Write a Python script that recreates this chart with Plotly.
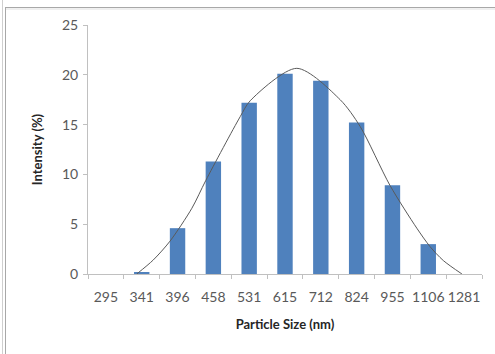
import plotly.graph_objects as go

sizes = ["295", "341", "396", "458", "531", "615", "712", "824", "955", "1106", "1281"]
intensity = [0, 0.15, 4.6, 11.3, 17.2, 20.1, 19.4, 15.2, 8.9, 3.0, 0]

# fitted curve (x in category-index units)
curve_x = [0.86, 1.32, 1.79, 2.40, 2.79, 3.75, 4.03, 5.33, 6.54, 7.1, 7.93, 8.68, 9.05, 9.42, 9.94]
curve_y = [0.0, 1.4, 3.3, 6.6, 9.4, 15.8, 17.4, 20.65, 17.5, 14.8, 8.9, 4.6, 2.75, 1.35, 0.0]

idx = list(range(len(sizes)))
FONT = "Lato"

fig = go.Figure()
fig.add_trace(go.Bar(x=idx, y=intensity, width=0.43,
                     marker=dict(color="#4F81BD", line=dict(width=0)),
                     showlegend=False))
fig.add_trace(go.Scatter(x=curve_x, y=curve_y, mode="lines",
                         line=dict(color="#5a5a5a", width=1, shape="spline", smoothing=0.8),
                         showlegend=False))

fig.update_layout(
    width=495, height=354,
    margin=dict(l=88, r=13, t=25, b=80),
    paper_bgcolor="white", plot_bgcolor="white",
    font=dict(family=FONT, size=14, color="#595959"),
)
fig.update_xaxes(
    range=[-0.5, 10.5], tickmode="array", tickvals=idx, ticktext=sizes,
    ticks="", showgrid=False, zeroline=False,
    showline=True, linecolor="#c0c0c0", linewidth=1,
    minor=dict(tickmode="linear", tick0=-0.5, dtick=1, ticks="outside", ticklen=4,
               tickcolor="#c0c0c0", showgrid=False),
    ticklabelstandoff=10,
    tickfont=dict(size=14, color="#595959"),
    title=dict(text="<b>Particle Size (nm)</b>", font=dict(size=13, color="#262626"), standoff=16),
    fixedrange=True,
)
fig.update_yaxes(
    range=[0, 25], tickvals=[0, 5, 10, 15, 20, 25], ticks="outside", ticklen=4,
    tickcolor="#c0c0c0", showgrid=False, zeroline=False,
    showline=True, linecolor="#c0c0c0", linewidth=1,
    ticklabelstandoff=2,
    tickfont=dict(size=14, color="#595959"),
    title=dict(text="<b>Intensity (%)</b>", font=dict(size=13, color="#262626"), standoff=16),
    fixedrange=True,
)

# frame lines of the chart area (pixel positions converted to paper coords)
shapes = [
    dict(x0=2.5, x1=2.5, y0=0, y1=354, color="#cfcfcf"),
    dict(x0=5.5, x1=5.5, y0=7, y1=354, color="#a8a8a8"),
    dict(x0=5.5, x1=495, y0=7.5, y1=7.5, color="#a8a8a8"),
    dict(x0=6, x1=495, y0=9, y1=9, color="#e0e0e0"),
]
W, H, L, B, T, R = 495, 354, 88, 80, 25, 13
pw, ph = W - L - R, H - T - B
for s in shapes:
    fig.add_shape(type="line", xref="paper", yref="paper",
                  x0=(s["x0"] - L) / pw, x1=(s["x1"] - L) / pw,
                  y0=(H - B - s["y0"]) / ph, y1=(H - B - s["y1"]) / ph,
                  line=dict(color=s["color"], width=1))

fig.write_html("out.html")
